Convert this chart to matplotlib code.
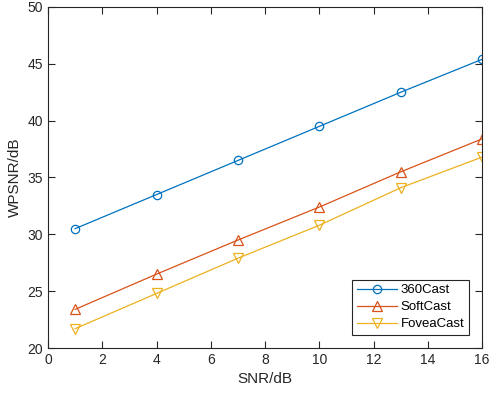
import matplotlib
matplotlib.use("Agg")
import matplotlib.pyplot as plt

snr = [1, 4, 7, 10, 13, 16]
cast360 = [30.5, 33.5, 36.5, 39.5, 42.5, 45.4]
softcast = [23.4, 26.5, 29.5, 32.4, 35.5, 38.4]
foveacast = [21.7, 24.8, 27.9, 30.8, 34.1, 36.8]

plt.rcParams['font.family'] = ['Liberation Sans', 'DejaVu Sans']
axcol = '#262626'

fig = plt.figure(figsize=(4.9, 3.97), dpi=100)
ax = fig.add_axes([0.098, 0.1234, 0.886, 0.859])

ax.plot(snr, cast360, color='#0072BD', lw=0.9, marker='o', ms=6,
        mfc='none', mew=0.9, label='360Cast')
ax.plot(snr, softcast, color='#D95319', lw=0.9, marker='^', ms=6.5,
        mfc='none', mew=0.9, label='SoftCast')
ax.plot(snr, foveacast, color='#EDB120', lw=0.9, marker='v', ms=6.5,
        mfc='none', mew=0.9, label='FoveaCast')

ax.set_xlim(0, 16)
ax.set_ylim(20, 50)
ax.set_xticks(range(0, 17, 2))
ax.set_yticks(range(20, 51, 5))
ax.set_xlabel('SNR/dB', fontsize=11, color=axcol)
ax.set_ylabel('WPSNR/dB', fontsize=11, color=axcol)

for s in ax.spines.values():
    s.set_color(axcol)
    s.set_linewidth(0.8)
ax.tick_params(direction='in', length=5, width=0.8, colors=axcol,
               labelsize=10, top=True, right=True)

leg = ax.legend(loc='lower right', fontsize=9.5, fancybox=False, framealpha=1,
                edgecolor=axcol, borderaxespad=1.0, handlelength=3,
                borderpad=0.35, labelspacing=0.35, handletextpad=0.3)
leg.get_frame().set_linewidth(0.8)

fig.savefig('out.png', dpi=100)
